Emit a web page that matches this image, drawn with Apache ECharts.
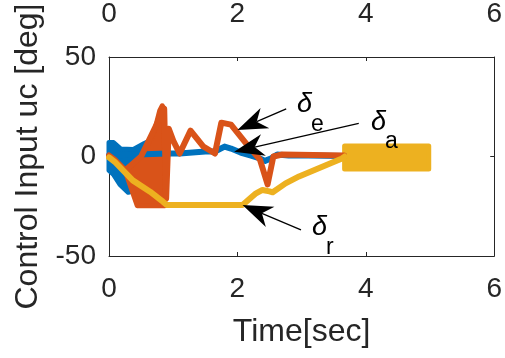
<!DOCTYPE html>
<html lang="en">
<head>
  <meta charset="UTF-8">
  <title>Control Input</title>
  <script src="https://cdn.jsdelivr.net/npm/echarts@6/dist/echarts.min.js"></script>
  <style>
    html, body { margin: 0; padding: 0; background: #fff; }
    #chart { width: 505px; height: 358px; }
  </style>
</head>
<body>
  <div id="chart"></div>
<script>
  // tick values
  const xTicks = [0, 2, 4, 6];
  const yTicks = [-50, 0, 50];

  // delta_a (blue): oscillating band at start, then trace
  const blueBand = [[0, 7], [0.07, 7], [0.18, 3.8], [0.38, 3.5], [0.55, 6.5], [0.68, 8.5], [0.8, 6], [0.9, 2.5],
    [0.9, 0], [0.6, -15], [0.3, -18], [0.17, -14], [0.07, -9], [0, -7]];
  const blueLine = [[0, 0.5], [0.9, 1.5], [1.1, 1.5], [1.3, 2], [1.5, 2.5], [1.65, 2.5], [1.8, 5], [1.9, 4],
    [2.05, 2], [2.2, 0.5], [2.35, -1], [2.43, -2.2], [2.52, -1], [2.62, 1], [2.8, 0.5], [3.1, 0.5], [3.66, 0.3]];

  // delta_e (orange)
  const orangeBand = [[0.25, -7], [0.4, -3], [0.53, 1.5], [0.69, 10.5], [0.79, 23], [0.83, 25.5], [0.86, 24],
    [0.87, -24.7], [0.44, -24.7], [0.26, -8]];
  const orangeLine = [[0, 0.5], [0.1, -2], [0.25, -7], [0.5, 0], [0.86, 24], [0.89, -21], [0.93, 14], [1.0, 8],
    [1.1, 1.5], [1.27, 13], [1.47, 5], [1.65, 1.5], [1.75, 17], [1.9, 16], [2.15, 6], [2.35, -1.5], [2.47, -14],
    [2.56, 0], [2.7, 1], [3.66, 0.5]];

  // delta_r (yellow)
  const yellowLine = [[0, -0.5], [0.1, -3], [0.37, -12], [0.64, -17.7], [0.84, -22.7], [0.9, -24.4], [2.08, -24.4],
    [2.2, -21], [2.29, -18.5], [2.39, -16.8], [2.5, -17.5], [2.55, -18], [2.75, -13.5], [2.96, -10], [3.22, -6.5],
    [3.48, -3], [3.63, -1], [3.67, 0]];
  const yellowBand = [[3.67, 5.3], [4.98, 5.3], [4.98, -6.3], [3.67, -6.3]];

  // annotations: arrow tip, arrow tail, label position, subscript
  const arrowTips = [[2.0, 13.3], [1.95, 2.4], [2.08, -24.4]];
  const arrowTails = [[2.76, 23.9], [3.89, 16.7], [2.99, -36.9]];
  const labelPos = [[2.93, 25.9], [4.08, 17.3], [3.16, -35.9]];
  const labelSubs = ['e', 'a', 'r'];

  const textColor = '#262626';
  const chart = echarts.init(document.getElementById('chart'));

  function bandSeries(points, color) {
    return {
      type: 'custom',
      silent: true,
      data: [points[0]],
      renderItem: function (params, api) {
        return {
          type: 'polygon',
          shape: { points: points.map(p => api.coord(p)) },
          style: { fill: color, stroke: color, lineWidth: 5, lineJoin: 'round' }
        };
      }
    };
  }

  function lineSeries(data, color) {
    return {
      type: 'line',
      data: data,
      showSymbol: false,
      silent: true,
      lineStyle: { color: color, width: 6, join: 'round', cap: 'round' }
    };
  }

  const xAxisBase = {
    type: 'value',
    min: xTicks[0],
    max: xTicks[xTicks.length - 1],
    interval: 2,
    axisLine: { onZero: false, lineStyle: { color: textColor, width: 1 } },
    axisTick: { inside: true, length: 4, lineStyle: { color: textColor } },
    splitLine: { show: false },
    axisLabel: { fontSize: 28, color: textColor, fontFamily: 'Liberation Sans' }
  };
  const yAxisBase = {
    type: 'value',
    min: yTicks[0],
    max: yTicks[yTicks.length - 1],
    interval: 50,
    axisLine: { onZero: false, lineStyle: { color: textColor, width: 1 } },
    axisTick: { inside: true, length: 4, lineStyle: { color: textColor } },
    splitLine: { show: false }
  };

  chart.setOption({
    animation: false,
    grid: { left: 109, right: 9, top: 57, bottom: 102 },
    xAxis: [
      Object.assign({}, xAxisBase, {
        position: 'bottom',
        name: 'Time[sec]',
        nameLocation: 'middle',
        nameGap: 60,
        nameTextStyle: { fontSize: 32, color: textColor, fontFamily: 'Liberation Sans' },
        axisLabel: Object.assign({}, xAxisBase.axisLabel, { margin: 19 })
      }),
      Object.assign({}, xAxisBase, {
        position: 'top',
        axisLabel: Object.assign({}, xAxisBase.axisLabel, { margin: 29 })
      })
    ],
    yAxis: [
      Object.assign({}, yAxisBase, {
        position: 'left',
        name: 'Control Input uc [deg]',
        nameLocation: 'middle',
        nameGap: 64,
        nameTextStyle: { fontSize: 32, color: textColor, fontFamily: 'Liberation Sans' },
        axisLabel: { fontSize: 28, color: textColor, margin: 13, fontFamily: 'Liberation Sans' }
      }),
      Object.assign({}, yAxisBase, {
        position: 'right',
        axisLabel: { show: false }
      })
    ],
    series: [
      bandSeries(blueBand, '#0072BD'),
      lineSeries(blueLine, '#0072BD'),
      bandSeries(orangeBand, '#D95319'),
      lineSeries(orangeLine, '#D95319'),
      lineSeries(yellowLine, '#EDB120'),
      bandSeries(yellowBand, '#EDB120')
    ]
  });

  // arrows and labels placed through the axis scales
  const graphics = [];
  for (let i = 0; i < arrowTips.length; i++) {
    const tip = chart.convertToPixel({ gridIndex: 0 }, arrowTips[i]);
    const tail = chart.convertToPixel({ gridIndex: 0 }, arrowTails[i]);
    const dx = tail[0] - tip[0], dy = tail[1] - tip[1];
    const len = Math.sqrt(dx * dx + dy * dy);
    const d = [dx / len, dy / len];
    const n = [-d[1], d[0]];
    const L = 30, W = 11, N = 21;
    graphics.push({
      type: 'polygon',
      silent: true,
      z: 100,
      shape: { points: [
        tip,
        [tip[0] + d[0] * L + n[0] * W, tip[1] + d[1] * L + n[1] * W],
        [tip[0] + d[0] * N, tip[1] + d[1] * N],
        [tip[0] + d[0] * L - n[0] * W, tip[1] + d[1] * L - n[1] * W]
      ] },
      style: { fill: '#000' }
    });
    graphics.push({
      type: 'line',
      silent: true,
      z: 100,
      shape: { x1: tip[0] + d[0] * N, y1: tip[1] + d[1] * N, x2: tail[0], y2: tail[1] },
      style: { stroke: '#000', lineWidth: 1.3 }
    });
    const lp = chart.convertToPixel({ gridIndex: 0 }, labelPos[i]);
    graphics.push({
      type: 'text',
      silent: true,
      z: 100,
      x: lp[0],
      y: lp[1],
      style: {
        text: 'δ',
        fill: '#000',
        font: 'italic 27px "Liberation Sans"',
        align: 'left',
        verticalAlign: 'middle'
      }
    });
    graphics.push({
      type: 'text',
      silent: true,
      z: 100,
      x: lp[0] + 14,
      y: lp[1] + 20,
      style: {
        text: labelSubs[i],
        fill: '#000',
        font: '23px "Liberation Sans"',
        align: 'left',
        verticalAlign: 'middle'
      }
    });
  }
  chart.setOption({ graphic: graphics });
</script>
</body>
</html>
